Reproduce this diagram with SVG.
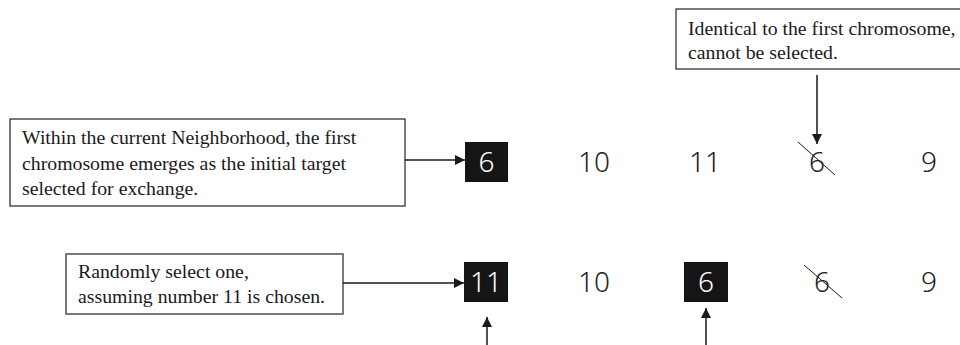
<svg xmlns="http://www.w3.org/2000/svg" width="960" height="345" viewBox="0 0 960 345">
  <defs>
    <marker id="arrow" viewBox="0 0 10 10" refX="10" refY="5" markerWidth="10" markerHeight="10" markerUnits="userSpaceOnUse" orient="auto">
      <path d="M0,0 L10,5 L0,10 z" fill="#1a1a1a"/>
    </marker>
    <style>
      .note { fill: #ffffff; stroke: #333333; stroke-width: 1.3; }
      .note-text { font-family: "Liberation Serif", "Times New Roman", serif; font-size: 19.8px; fill: #1a1a1a; }
      .num { font-family: "Noto Sans", "DejaVu Sans", sans-serif; font-size: 28px; fill: #222222; text-anchor: middle; font-weight: 300; }
      .num-sel { fill: #ffffff; }
      .sel-box { fill: #151515; }
      .conn { stroke: #1a1a1a; stroke-width: 1.5; fill: none; marker-end: url(#arrow); }
      .strike { stroke: #1a1a1a; stroke-width: 1; }
    </style>
  </defs>

  <rect width="960" height="345" fill="#ffffff"/>

  <!-- annotation boxes -->
  <g id="note-first">
    <rect class="note" x="10" y="119" width="395" height="87"/>
    <text class="note-text" x="22" y="144">Within the current Neighborhood, the first</text>
    <text class="note-text" x="22" y="170">chromosome emerges as the initial target</text>
    <text class="note-text" x="22" y="195">selected for exchange.</text>
  </g>

  <g id="note-identical">
    <rect class="note" x="676" y="9" width="300" height="60"/>
    <text class="note-text" x="688" y="35">Identical to the first chromosome,</text>
    <text class="note-text" x="688" y="59">cannot be selected.</text>
  </g>

  <g id="note-random">
    <rect class="note" x="66" y="254" width="277" height="60"/>
    <text class="note-text" x="78" y="278">Randomly select one,</text>
    <text class="note-text" x="78" y="303">assuming number 11 is chosen.</text>
  </g>

  <!-- first row of chromosomes -->
  <g id="row1-a">
    <rect class="sel-box" x="465" y="142" width="43" height="40"/>
    <text class="num num-sel" x="486.5" y="172">6</text>
  </g>
  <g id="row1-b"><text class="num" x="594" y="172">10</text></g>
  <g id="row1-c"><text class="num" x="705" y="172">11</text></g>
  <g id="row1-d">
    <text class="num" x="817" y="172">6</text>
    <line class="strike" x1="798" y1="142" x2="835" y2="175"/>
  </g>
  <g id="row1-e"><text class="num" x="929" y="172">9</text></g>

  <!-- second row of chromosomes -->
  <g id="row2-a">
    <rect class="sel-box" x="464" y="262" width="44" height="40"/>
    <text class="num num-sel" x="486" y="292">11</text>
  </g>
  <g id="row2-b"><text class="num" x="594" y="292">10</text></g>
  <g id="row2-c">
    <rect class="sel-box" x="684" y="262" width="44" height="40"/>
    <text class="num num-sel" x="706" y="292">6</text>
  </g>
  <g id="row2-d">
    <text class="num" x="822" y="292">6</text>
    <line class="strike" x1="804" y1="265" x2="842" y2="298"/>
  </g>
  <g id="row2-e"><text class="num" x="929" y="292">9</text></g>

  <!-- connectors -->
  <g id="connectors">
    <line class="conn" x1="405" y1="160" x2="465" y2="160"/>
    <line class="conn" x1="817" y1="75" x2="817" y2="144"/>
    <line class="conn" x1="343" y1="283" x2="464" y2="283"/>
    <line class="conn" x1="487" y1="345" x2="487" y2="317"/>
    <line class="conn" x1="706" y1="345" x2="706" y2="308"/>
  </g>
</svg>
